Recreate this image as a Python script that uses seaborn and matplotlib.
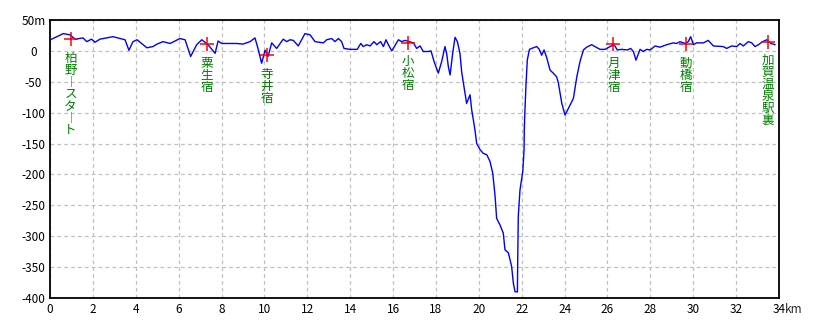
import matplotlib
matplotlib.use("Agg")
import matplotlib.pyplot as plt
import matplotlib.transforms as mtransforms
import seaborn as sns
import pandas as pd

dist_km = [0.00, 0.14, 0.62, 0.93, 1.17, 1.54, 1.71, 1.94, 2.10, 2.33, 2.94, 3.50, 3.68, 3.87,
           4.06, 4.52, 4.80, 4.99, 5.27, 5.60, 6.06, 6.30, 6.56, 6.84, 7.08, 7.37, 7.70, 7.84,
           8.01, 8.71, 9.00, 9.33, 9.56, 9.70, 9.87, 10.03, 10.17, 10.34, 10.57, 10.88, 11.04,
           11.19, 11.35, 11.58, 11.89, 12.13, 12.36, 12.75, 12.90, 13.14, 13.29, 13.45, 13.60,
           13.71, 13.99, 14.33, 14.49, 14.61, 14.77, 14.93, 15.11, 15.24, 15.42, 15.55, 15.67,
           15.78, 15.94, 16.25, 16.40, 16.56, 16.95, 17.10, 17.26, 17.41, 17.64, 17.77, 17.91,
           18.11, 18.27, 18.42, 18.50, 18.58, 18.66, 18.78, 18.89, 19.00, 19.12, 19.20, 19.31,
           19.43, 19.59, 19.67, 19.82, 19.90, 20.06, 20.21, 20.37, 20.52, 20.65, 20.76, 20.83,
           20.99, 21.14, 21.22, 21.38, 21.53, 21.61, 21.69, 21.80, 21.81, 21.84, 21.92, 22.05,
           22.11, 22.12, 22.15, 22.20, 22.26, 22.36, 22.54, 22.70, 22.82, 22.93, 23.04, 23.16,
           23.32, 23.47, 23.63, 23.71, 23.87, 24.02, 24.18, 24.41, 24.57, 24.72, 24.88, 25.03,
           25.26, 25.42, 25.65, 25.89, 26.12, 26.31, 26.46, 26.66, 26.93, 27.08, 27.21, 27.33,
           27.52, 27.67, 27.83, 27.99, 28.22, 28.45, 28.76, 29.07, 29.23, 29.38, 29.62, 29.77,
           29.88, 30.01, 30.16, 30.47, 30.70, 30.94, 31.40, 31.56, 31.79, 32.03, 32.18, 32.34,
           32.57, 32.73, 32.88, 33.04, 33.24, 33.43, 33.63, 33.82]
elev_m = [18, 20, 28, 26, 19, 21, 15, 19, 14, 19, 23, 18, 1, 15,
          18, 5, 7, 11, 15, 12, 20, 18, -9, 10, 18, 10, -4, 16,
          12, 12, 11, 15, 21, 4, -20, 1, -9, 13, 4, 19, 15,
          18, 17, 8, 28, 26, 15, 13, 18, 20, 15, 20, 15,
          4, 2.5, 2.5, 12, 7, 10, 8, 15, 10, 15, 7, 18,
          10, 0, 18, 15, 17, 13, 4, 8, -1, -1, 0, -17,
          -36, -17, 7, -4, -26, -39, -4, 22, 15, -4, -34, -58,
          -85, -71, -96, -128, -150, -160, -166, -168, -179, -198, -236, -271,
          -282, -295, -322, -327, -349, -376, -390, -390, -349, -268, -225, -195,
          -160, -128, -96, -55, -15, 2.5, 5, 7, 2.5, -7, 1.5, -10,
          -31, -36, -42, -52, -85, -104, -93, -77, -42, -17, 1.5, 6,
          10, 7, 2.5, 2.5, 7, 10, 1.5, 2.5, 1.5, 4, -1, -15,
          2.5, -1, 2.5, 1.5, 8, 6, 10, 13, 12, 15, 12, 15,
          23, 10, 13, 13, 17, 8, 7, 4, 8, 7, 12, 8,
          15, 13, 7, 10, 15, 18, 12, 10]

station_names = ["柏野-スタート", "粟生宿", "寺井宿", "小松宿", "月津宿", "動橋宿", "加賀温泉駅裏"]
station_km = [0.96, 7.31, 10.10, 16.71, 26.28, 29.65, 33.50]
station_elev = [19, 11, -7, 13, 11, 11, 15]

x_ticks = [0, 2, 4, 6, 8, 10, 12, 14, 16, 18, 20, 22, 24, 26, 28, 30, 32, 34]
x_tick_labels = ["0", "2", "4", "6", "8", "10", "12", "14", "16", "18", "20", "22", "24",
                 "26", "28", "30", "32", "34"]
y_ticks = [50, 0, -50, -100, -150, -200, -250, -300, -350, -400]
y_tick_labels = ["50m", "0", "-50", "-100", "-150", "-200", "-250", "-300", "-350", "-400"]

sns.set_style("white")
plt.rcParams['font.family'] = ['Noto Sans CJK JP', 'DejaVu Sans']
plt.rcParams['axes.unicode_minus'] = False

profile = pd.DataFrame({"km": dist_km, "m": elev_m})
stations = pd.DataFrame({"km": station_km, "m": station_elev, "name": station_names})

fig = plt.figure(figsize=(8.2, 3.28), dpi=100)
ax = fig.add_axes([50 / 820, 1 - 298 / 328, 729 / 820, 278 / 328])

sns.lineplot(data=profile, x="km", y="m", ax=ax, color="#0000ff", linewidth=1.0,
             sort=False, estimator=None, zorder=3)
sns.scatterplot(data=stations, x="km", y="m", ax=ax, marker="+", color="#ff0000",
                s=110, linewidth=1.1, zorder=4)

# vertical (tategaki) station labels: one glyph per row, 12 px pitch
px = 72 / 100
for name, xk, ym in zip(station_names, station_km, station_elev):
    for i, ch in enumerate(name):
        glyph = "︱" if ch in "-ー" else ch
        ax.annotate(glyph, xy=(xk, ym), xytext=(0, -(19 + 12 * i) * px),
                    textcoords="offset points", ha="center", va="center",
                    color="#008000", fontsize=9, zorder=5)

ax.set_xlim(0, 34)
ax.set_ylim(-400, 50)
ax.set_xticks(x_ticks)
ax.set_xticklabels(x_tick_labels)
ax.set_yticks(y_ticks)
ax.set_yticklabels(y_tick_labels, ha="center")
ax.tick_params(axis="both", length=0, labelsize=8.5, colors="black")
ax.tick_params(axis="y", pad=12)
ax.tick_params(axis="x", pad=3.5)

trans = mtransforms.blended_transform_factory(ax.transData, ax.transAxes)
ax.annotate("km", xy=(34, 0), xycoords=trans, xytext=(4.5, -3.5), textcoords="offset points",
            ha="left", va="top", fontsize=8.5)

ax.grid(True, color="#c0c0c0", linestyle=(0, (3, 2.5)), linewidth=0.9)
ax.set_axisbelow(True)
for sp in ax.spines.values():
    sp.set_visible(True)
    sp.set_color("black")
    sp.set_linewidth(1.3)
ax.set_xlabel("")
ax.set_ylabel("")

fig.savefig("out.png", dpi=100)
